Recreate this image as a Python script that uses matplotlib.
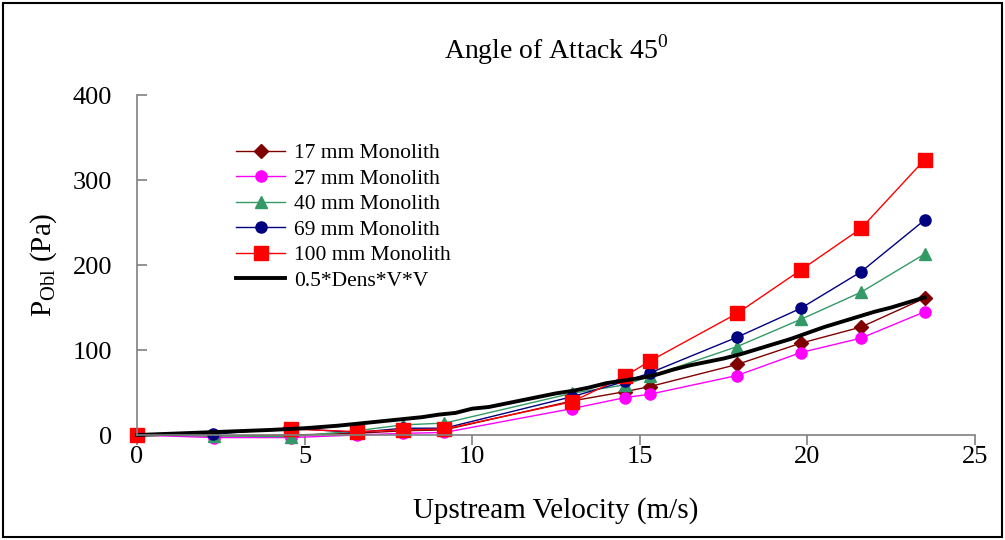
import numpy as np
import matplotlib.pyplot as plt
from matplotlib.patches import Rectangle

plt.rcParams['font.family'] = ['Liberation Serif', 'DejaVu Serif']
plt.rcParams['mathtext.fontset'] = 'custom'
plt.rcParams['mathtext.rm'] = 'Liberation Serif'

# measured points (velocity m/s, pressure Pa)
v17 = [0, 2.3, 4.6, 6.55, 7.95, 9.17, 12.97, 14.55, 15.3, 17.9, 19.8, 21.6, 23.5]
p17 = [0, -1, 0, 2, 5, 6, 40, 51, 57, 83, 108, 127, 161]

v27 = [0, 2.3, 4.6, 6.55, 7.95, 9.17, 12.97, 14.55, 15.3, 17.9, 19.8, 21.6, 23.5]
p27 = [0, -3, -3, 0, 2, 3, 31, 44, 48, 70, 97, 114, 145]

v40 = [0, 2.3, 4.6, 6.55, 7.95, 9.17, 12.97, 14.55, 15.3, 17.9, 19.8, 21.6, 23.5]
p40 = [0, -1, -2, 5, 12, 14, 49, 59, 69, 104, 136, 168, 213]

v69 = [0, 2.27, 4.55, 6.55, 7.95, 9.17, 12.97, 14.55, 15.3, 17.9, 19.8, 21.6, 23.5]
p69 = [0, 1, 8, 3, 8, 8, 45, 63, 73, 115, 149, 192, 253]

v100 = [0, 4.6, 6.55, 7.95, 9.17, 12.97, 14.55, 15.3, 17.9, 19.8, 21.6, 23.5]
p100 = [0, 7, 4, 6, 7, 39, 69, 87, 143, 194, 243, 324]

# dynamic pressure curve
vq = [0, 1, 2, 3, 4, 5, 6, 7, 7.5, 8, 8.5, 9, 9.5, 10, 10.5, 11, 11.5, 12, 12.5,
      13, 13.5, 14, 14.5, 15, 15.5, 16, 16.5, 17, 17.5, 18, 18.5, 19, 19.5, 20,
      20.5, 21, 21.5, 22, 22.5, 23, 23.5]
pq = [0, 1.5, 3, 4.5, 6, 8, 11, 15, 17, 19, 21, 24, 26, 31, 33, 37, 41, 45, 49,
      52, 56, 61, 64, 67, 71, 77, 82, 86, 90, 95, 101, 107, 113, 120,
      127, 133, 139, 145, 150, 156, 162]

fig = plt.figure(figsize=(10.05, 5.4), dpi=100)
ax = fig.add_axes([0.1363, 0.1944, 0.8338, 0.6296])

ax.plot(v17, p17, '-D', color='#800000', lw=1, ms=7, label='17 mm Monolith', clip_on=False)
ax.plot(v27, p27, '-o', color='#FF00FF', lw=1, ms=8, label='27 mm Monolith', clip_on=False)
ax.plot(v40, p40, '-^', color='#339966', lw=1, ms=9, label='40 mm Monolith', clip_on=False)
ax.plot(v69, p69, '-o', color='#000080', lw=1, ms=8, label='69 mm Monolith', clip_on=False)
ax.plot(v100, p100, '-s', color='#FF0000', lw=1, ms=10, label='100 mm Monolith', clip_on=False)
ax.plot(vq, pq, '-', color='black', lw=2.8, label='0.5*Dens*V*V', clip_on=False)

ax.set_xlim(0, 25)
ax.set_ylim(0, 400)
ax.set_xticks([0, 5, 10, 15, 20, 25])
ax.set_yticks([0, 100, 200, 300, 400])
for s in ['top', 'right']:
    ax.spines[s].set_visible(False)
for s in ['left', 'bottom']:
    ax.spines[s].set_color('#808080')
    ax.spines[s].set_linewidth(1.2)
ax.tick_params(axis='x', direction='out', length=7, width=1.2, color='#808080',
               labelsize=19, pad=1)
ax.tick_params(axis='y', direction='in', length=7, width=1.2, color='#808080',
               labelsize=19, pad=18)

ax.set_title('Angle of Attack 45$^0$', fontsize=20, pad=26)
ax.set_xlabel('Upstream Velocity (m/s)', fontsize=21, labelpad=21)
ax.set_ylabel(r'P$_{\rm Obl}$ (Pa)', fontsize=21, labelpad=10)

ax.legend(loc='upper left', bbox_to_anchor=(0.095, 0.915), frameon=False,
          fontsize=15.5, handlelength=2.3, handletextpad=0.4, labelspacing=0.25)

fig.patches.append(Rectangle((0.003, 0.005), 0.994, 0.99, transform=fig.transFigure,
                             fill=False, edgecolor='black', lw=1.5))

fig.savefig('out.png', dpi=100)
